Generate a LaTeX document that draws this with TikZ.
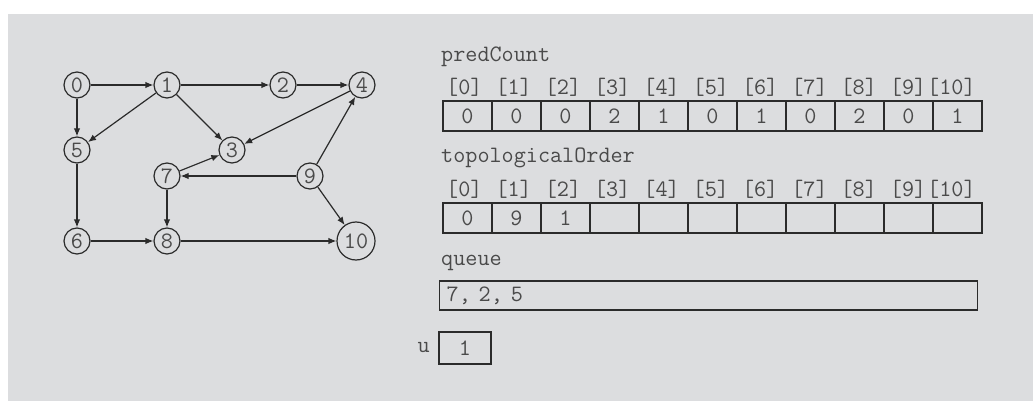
\documentclass[tikz,border=0pt]{standalone}
\usepackage{fontspec}
\usetikzlibrary{arrows.meta}
\definecolor{panel}{HTML}{DCDDDF}
\definecolor{ink}{HTML}{2B2B2B}
\definecolor{txt}{HTML}{4A4A4A}

\begin{document}
\begin{tikzpicture}[x=1pt, y=-1pt,
    every node/.style={font=\ttfamily\fontsize{23.5}{26}\selectfont, text=txt},
    vertex/.style={draw=ink, circle, line width=1.2pt, minimum size=26pt, inner sep=0pt},
    edge/.style={draw=ink, line width=1.2pt, -{Latex[length=8pt,width=6.5pt]}},
    cell/.style={draw=ink, line width=1.4pt, minimum width=49pt, minimum height=30pt, inner sep=0pt},
    lbl/.style={anchor=west, inner sep=0pt}]
    \useasboundingbox (0,0) rectangle (1033,401);
    \fill[panel] (8,14) rectangle (1033,401);
    % the graph
    \node[vertex] (v0) at (77,85) {0};
    \node[vertex] (v1) at (167,85) {1};
    \node[vertex] (v2) at (283,85) {2};
    \node[vertex] (v4) at (362,85) {4};
    \node[vertex] (v5) at (77,150) {5};
    \node[vertex] (v3) at (232,150) {3};
    \node[vertex] (v7) at (167,176) {7};
    \node[vertex] (v9) at (310,176) {9};
    \node[vertex] (v6) at (77,241) {6};
    \node[vertex] (v8) at (167,241) {8};
    \node[vertex, minimum size=38pt] (v10) at (356,241) {10};
    \draw[edge] (v0) -- (v1);
    \draw[edge] (v1) -- (v2);
    \draw[edge] (v2) -- (v4);
    \draw[edge] (v0) -- (v5);
    \draw[edge] (v1) -- (v5);
    \draw[edge] (v1) -- (v3);
    \draw[edge] (v4) -- (v3);
    \draw[edge] (v7) -- (v3);
    \draw[edge] (v9) -- (v4);
    \draw[edge] (v9) -- (v7);
    \draw[edge] (v9) -- (v10);
    \draw[edge] (v5) -- (v6);
    \draw[edge] (v7) -- (v8);
    \draw[edge] (v6) -- (v8);
    \draw[edge] (v8) -- (v10);
    % predCount
    \node[lbl] (pclabel) at (441,57) {predCount};
    \foreach \i in {0,...,9}
        \node[lbl] (pcidx\i) at (446+49.3*\i,87) {[\i]};
    \node[lbl] (pcidx10) at (927,87) {[10]};
    \foreach \v [count=\i from 0] in {0,0,0,2,1,0,1,0,2,0,1}
        \node[cell] (pc\i) at (467.5+49*\i,116) {\v};
    % topologicalOrder
    \node[lbl] (tolabel) at (441,158) {topologicalOrder};
    \foreach \i in {0,...,9}
        \node[lbl] (toidx\i) at (446+49.3*\i,189) {[\i]};
    \node[lbl] (toidx10) at (927,189) {[10]};
    \foreach \v [count=\i from 0] in {0,9,1,{},{},{},{},{},{},{},{}}
        \node[cell] (to\i) at (467.5+49*\i,218) {\v};
    % queue and u
    \node[lbl] (qlabel) at (441,263) {queue};
    \node[cell, minimum width=538pt, minimum height=29pt, anchor=west, text width=524pt] (queue) at (439,295.5) {7, 2, 5};
    \node[cell, minimum width=52pt, minimum height=32pt] (ubox) at (465,348) {1};
    \node[anchor=east, xshift=-5pt] (ulabel) at (ubox.west) {u};
\end{tikzpicture}
\end{document}
